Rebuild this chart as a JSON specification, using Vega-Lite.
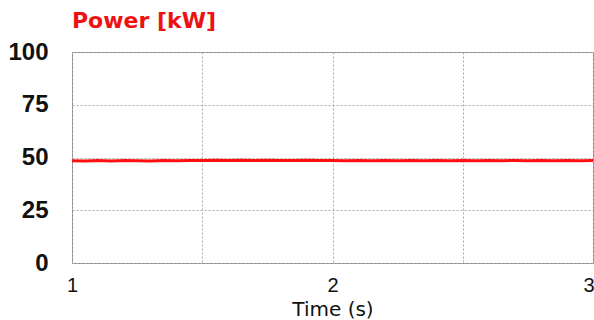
{
  "$schema": "https://vega.github.io/schema/vega-lite/v6.json",
  "width": 521,
  "height": 211,
  "autosize": "none",
  "padding": {"left": 72, "top": 52, "right": 1, "bottom": 57},
  "background": "white",
  "title": {"text": "Power [kW]", "color": "#ee1111", "font": "DejaVu Sans", "fontSize": 22, "fontWeight": "bold", "anchor": "start", "frame": "group", "offset": 7, "dx": 0},
  "config": {"view": {"stroke": "#888888", "strokeWidth": 1}},
  "data": {"values": [
    {"t": 1.00, "p": 48.5}, {"t": 1.05, "p": 48.4}, {"t": 1.10, "p": 48.6}, {"t": 1.15, "p": 48.4},
    {"t": 1.20, "p": 48.6}, {"t": 1.25, "p": 48.5}, {"t": 1.30, "p": 48.4}, {"t": 1.35, "p": 48.6},
    {"t": 1.40, "p": 48.5}, {"t": 1.45, "p": 48.6}, {"t": 1.50, "p": 48.6}, {"t": 1.55, "p": 48.7},
    {"t": 1.60, "p": 48.6}, {"t": 1.65, "p": 48.7}, {"t": 1.70, "p": 48.6}, {"t": 1.75, "p": 48.7},
    {"t": 1.80, "p": 48.6}, {"t": 1.85, "p": 48.6}, {"t": 1.90, "p": 48.7}, {"t": 1.95, "p": 48.6},
    {"t": 2.00, "p": 48.6}, {"t": 2.05, "p": 48.5}, {"t": 2.10, "p": 48.6}, {"t": 2.15, "p": 48.5},
    {"t": 2.20, "p": 48.6}, {"t": 2.25, "p": 48.5}, {"t": 2.30, "p": 48.6}, {"t": 2.35, "p": 48.5},
    {"t": 2.40, "p": 48.6}, {"t": 2.45, "p": 48.5}, {"t": 2.50, "p": 48.6}, {"t": 2.55, "p": 48.5},
    {"t": 2.60, "p": 48.6}, {"t": 2.65, "p": 48.5}, {"t": 2.70, "p": 48.6}, {"t": 2.75, "p": 48.5},
    {"t": 2.80, "p": 48.6}, {"t": 2.85, "p": 48.5}, {"t": 2.90, "p": 48.6}, {"t": 2.95, "p": 48.5},
    {"t": 3.00, "p": 48.6}
  ]},
  "mark": {"type": "line", "color": "#ff1010", "strokeWidth": 3, "clip": true},
  "encoding": {
    "x": {
      "field": "t", "type": "quantitative",
      "scale": {"domain": [1, 3], "nice": false, "zero": false},
      "axis": {
        "values": [1, 1.5, 2, 2.5, 3],
        "labelExpr": "datum.value == 1.5 || datum.value == 2.5 ? '' : format(datum.value, 'd')",
        "title": "Time (s)",
        "titleFont": "DejaVu Sans", "titleFontSize": 20, "titleFontWeight": "normal", "titleColor": "#111111",
        "titlePadding": 4,
        "labelFont": "Liberation Sans", "labelFontSize": 20, "labelColor": "#111111",
        "labelPadding": 12,
        "labelAlign": {"condition": {"test": "datum.value == 3", "value": "right"}, "value": "center"},
        "labelOffset": {"condition": {"test": "datum.value == 3", "value": 1}, "value": 0},
        "ticks": false, "domain": false,
        "grid": true, "gridColor": "#aaaaaa", "gridDash": [2, 2], "gridWidth": 1,
        "labelOverlap": false
      }
    },
    "y": {
      "field": "p", "type": "quantitative",
      "scale": {"domain": [0, 100], "nice": false},
      "axis": {
        "values": [0, 25, 50, 75, 100],
        "title": null,
        "labelFont": "Liberation Sans", "labelFontSize": 24, "labelFontWeight": "bold", "labelColor": "#111111",
        "labelPadding": 24,
        "ticks": false, "domain": false,
        "grid": true, "gridColor": "#aaaaaa", "gridDash": [2, 2], "gridWidth": 1
      }
    }
  }
}
